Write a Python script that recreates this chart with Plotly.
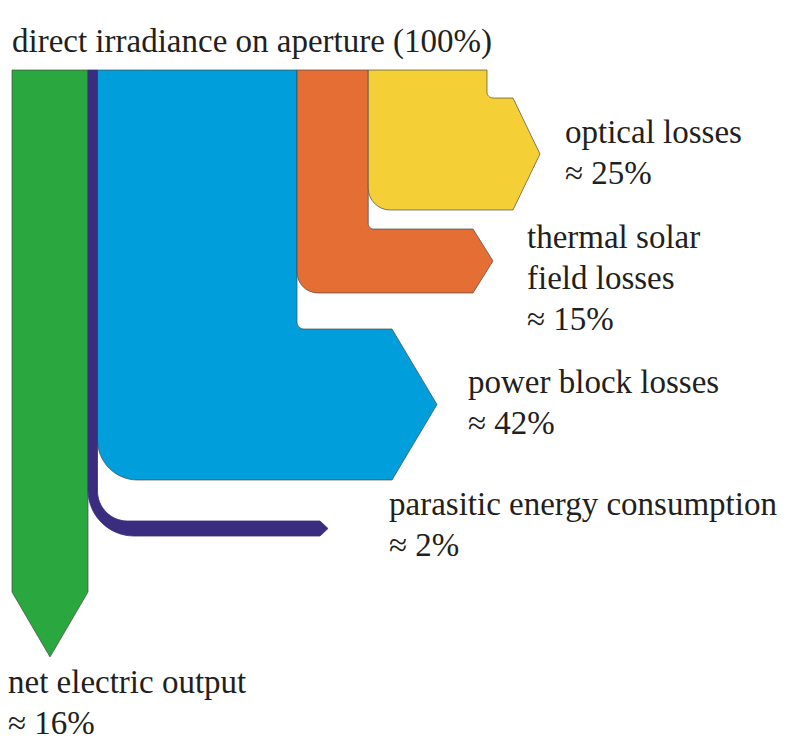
import plotly.graph_objects as go

# ---- data -------------------------------------------------------------
title_text = "direct irradiance on aperture (100%)"
categories = [
    "net electric output",
    "parasitic energy consumption",
    "power block losses",
    "thermal solar\nfield losses",
    "optical losses",
]
shares = [16, 2, 42, 15, 25]  # percent of direct irradiance

# ---- style ------------------------------------------------------------
colors = ["#2aa83f", "#3a2d7f", "#009fdb", "#e46e34", "#f4cf36"]
outline = "rgba(70,70,70,0.85)"
text_color = "#231f20"
font_family = "Liberation Serif, Times New Roman, serif"

W, H = 795, 744
x_start, y_top = 12, 70
px_per_pct = 475 / sum(shares)

# exit geometry for the flows that turn right (index -> layout)
exits = {
    1: dict(y1=521, y2=536, xe=320, tip=8, R=46, r=30),
    2: dict(y1=329, y2=480, xe=392, tip=45, R=40, r=7),
    3: dict(y1=229, y2=293, xe=473, tip=20, R=21, r=5),
    4: dict(y1=98, y2=210, xe=513, tip=27, R=22, r=6),
}
# the net output continues straight down and ends in a point
down_end, down_tip = 592, 657

# label anchors: left x and baseline of the first line
label_pos = {
    0: (7, 693),
    1: (388, 515),
    2: (467, 393),
    3: (526, 248),
    4: (564, 143),
}
line_gap = 41
label_size = 33

K = 0.5523  # cubic approximation of a quarter circle

# ---- geometry from the shares ------------------------------------------
edges = [x_start]
for s in shares:
    edges.append(edges[-1] + s * px_per_pct)


def f(v):
    return f"{v:.2f}"


def turn_path(xl, xr, e):
    y1, y2, xe, R, r = e["y1"], e["y2"], e["xe"], e["R"], e["r"]
    tip_x = xe + e["tip"]
    mid = (y1 + y2) / 2
    return (
        f"M {f(xl)},{f(y_top)} L {f(xr)},{f(y_top)} "
        f"L {f(xr)},{f(y1 - r)} "
        f"C {f(xr)},{f(y1 - r + K * r)} {f(xr + r - K * r)},{f(y1)} {f(xr + r)},{f(y1)} "
        f"L {f(xe)},{f(y1)} L {f(tip_x)},{f(mid)} L {f(xe)},{f(y2)} "
        f"L {f(xl + R)},{f(y2)} "
        f"C {f(xl + R - K * R)},{f(y2)} {f(xl)},{f(y2 - R + K * R)} {f(xl)},{f(y2 - R)} Z"
    )


def down_path(xl, xr):
    cx = (xl + xr) / 2
    return (
        f"M {f(xl)},{f(y_top)} L {f(xr)},{f(y_top)} L {f(xr)},{f(down_end)} "
        f"L {f(cx)},{f(down_tip)} L {f(xl)},{f(down_end)} Z"
    )


paths = {}
for i in range(len(shares)):
    xl, xr = edges[i], edges[i + 1]
    paths[i] = turn_path(xl, xr, exits[i]) if i in exits else down_path(xl, xr)

draw_order = [0, 2, 3, 4, 1]
shapes = []
for i in draw_order:
    shapes.append(dict(
        type="path", xref="x", yref="y", path=paths[i],
        fillcolor=colors[i],
        line=dict(color=outline if i != 1 else colors[i], width=0.8),
        layer="above",
    ))

# ---- text -------------------------------------------------------------
def ann(text, x, baseline, size):
    # anchor on the middle of the text box, which sits above the baseline
    return dict(
        text=text, x=x, y=baseline - 0.3375 * size,
        xref="x", yref="y", xanchor="left", yanchor="middle",
        showarrow=False, borderpad=0,
        font=dict(family=font_family, size=size, color=text_color),
    )


annotations = [ann(title_text, x_start - 1, 53, 33)]
for i, name in enumerate(categories):
    x, base = label_pos[i]
    lines = name.split("\n") + [f"\u2248 {shares[i]}%"]
    for j, line in enumerate(lines):
        annotations.append(ann(line, x, base + j * line_gap, label_size))

fig = go.Figure(go.Scatter(x=[0, W], y=[0, H], mode="markers",
                           marker=dict(opacity=0), hoverinfo="skip",
                           showlegend=False))
fig.update_layout(
    width=W, height=H,
    margin=dict(l=0, r=0, t=0, b=0),
    paper_bgcolor="white", plot_bgcolor="white",
    xaxis=dict(range=[0, W], visible=False, fixedrange=True),
    yaxis=dict(range=[H, 0], visible=False, fixedrange=True),
    shapes=shapes,
    annotations=annotations,
    showlegend=False,
)
fig.write_html("out.html")
